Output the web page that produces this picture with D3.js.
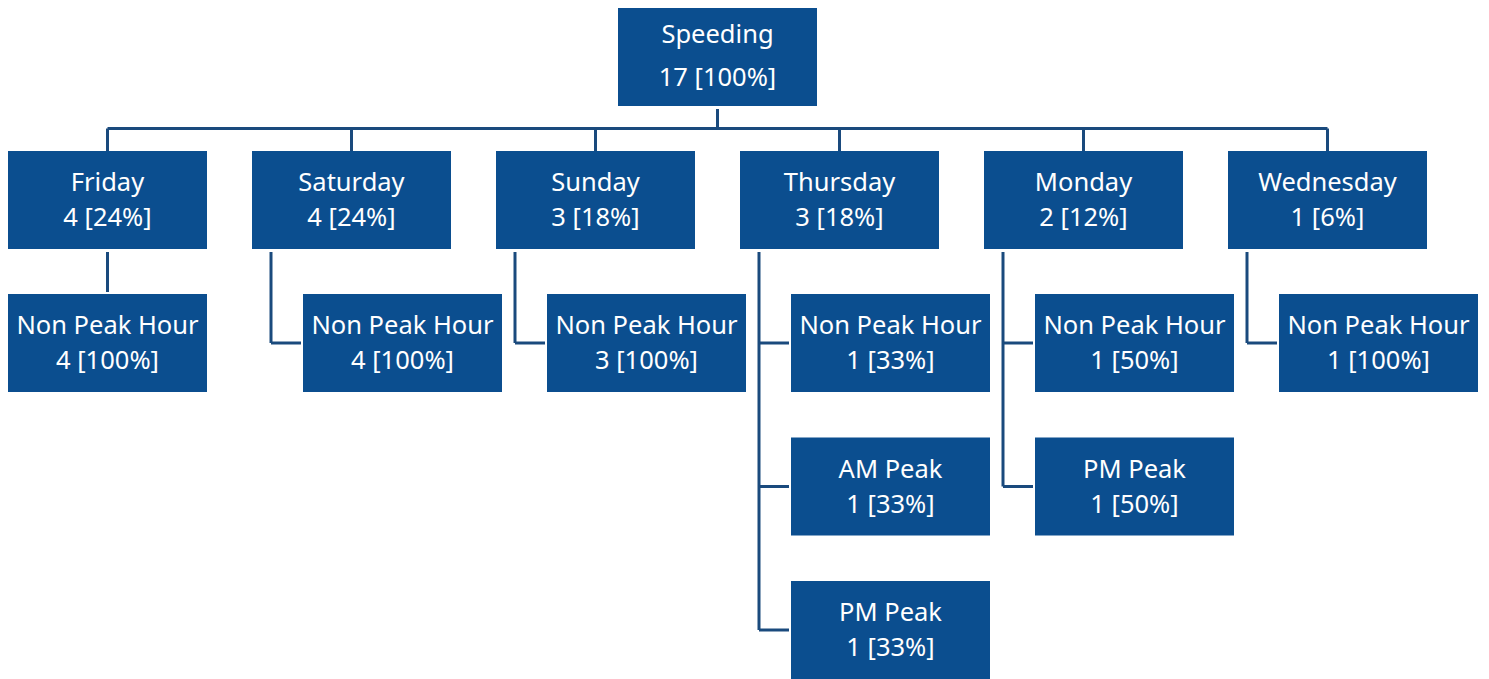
<!DOCTYPE html>
<html>
<head>
<meta charset="utf-8">
<script src="https://cdn.jsdelivr.net/npm/d3@7"></script>
<style>
  body { margin: 0; background: #fff; }
  svg text { font-family: "Noto Sans", sans-serif; fill: #fff; }
</style>
</head>
<body>
<script>
const rootName = "Speeding";
const rootCount = 17;
const days = ["Friday", "Saturday", "Sunday", "Thursday", "Monday", "Wednesday"];
const dayCounts = [4, 4, 3, 3, 2, 1];
const periods = [
    ["Non Peak Hour"],
    ["Non Peak Hour"],
    ["Non Peak Hour"],
    ["Non Peak Hour", "AM Peak", "PM Peak"],
    ["Non Peak Hour", "PM Peak"],
    ["Non Peak Hour"]
];
const periodCounts = [[4], [4], [3], [1, 1, 1], [1, 1], [1]];
const standardLayout = ["Friday"];

const config = {
    width: 1489,
    height: 679,
    boxW: 199,
    boxH: 98,
    fill: "#0b4e8f",
    line: "#1a4a7d"
};

const treeData = {
    name: rootName,
    value: rootCount,
    children: days.map((d, i) => ({
        name: d,
        value: dayCounts[i],
        children: periods[i].map((p, j) => ({ name: p, value: periodCounts[i][j] }))
    }))
};

const root = d3.hierarchy(treeData);

const x = d3.scaleBand()
    .domain(days)
    .range([8, 1427])
    .paddingInner(45 / 244)
    .paddingOuter(0);

const rowY = d3.scaleLinear().domain([0, 1]).range([294, 437.5]);

// positions
root.x0 = 618; root.y0 = 8;
root.children.forEach(day => {
    day.x0 = x(day.data.name);
    day.y0 = 151;
    const standard = standardLayout.includes(day.data.name);
    day.standard = standard;
    day.children.forEach((c, j) => {
        c.x0 = standard ? day.x0 : day.x0 + 51;
        c.y0 = rowY(j);
    });
});

const pct = d => Math.round(d.value / (d.parent ? d.parent.data.value : d.data.value) * 100);
root.each(d => { d.value = d.data.value; });

const svg = d3.select("body").append("svg")
    .attr("width", config.width)
    .attr("height", config.height);

// connectors
const links = svg.append("g")
    .attr("fill", "none")
    .attr("stroke", config.line)
    .attr("stroke-width", 3);

const midX = d => d.x0 + config.boxW / 2;
const busY = 128.5;

links.append("path")
    .attr("d", `M${midX(root)},${root.y0 + config.boxH + 3}V${busY}`);
links.append("path")
    .attr("d", `M${midX(root.children[0])},${busY}H${midX(root.children[root.children.length - 1])}`);
root.children.forEach(day => {
    links.append("path").attr("d", `M${midX(day)},${busY}V${day.y0}`);
    if (day.standard) {
        day.children.forEach(c => {
            links.append("path").attr("d", `M${midX(day)},${day.y0 + config.boxH + 3}V${c.y0 - 2}`);
        });
    } else {
        const lx = day.x0 + 19;
        const last = day.children[day.children.length - 1];
        links.append("path")
            .attr("d", `M${lx},${day.y0 + config.boxH + 3}V${last.y0 + config.boxH / 2}`);
        day.children.forEach(c => {
            links.append("path")
                .attr("d", `M${lx},${c.y0 + config.boxH / 2}H${c.x0 - 2}`);
        });
    }
});

// boxes
const nodes = svg.selectAll("g.node")
    .data(root.descendants())
    .enter()
    .append("g")
    .attr("class", "node")
    .attr("transform", d => `translate(${d.x0},${d.y0})`);

nodes.append("rect")
    .attr("width", config.boxW)
    .attr("height", config.boxH)
    .style("fill", config.fill);

nodes.append("text")
    .attr("x", config.boxW / 2)
    .attr("y", d => d.depth === 0 ? 35 : 40)
    .attr("text-anchor", "middle")
    .style("font-size", "25.5px")
    .text(d => d.data.name);

nodes.append("text")
    .attr("x", config.boxW / 2)
    .attr("y", d => d.depth === 0 ? 78 : 75)
    .attr("text-anchor", "middle")
    .style("font-size", "25.5px")
    .text(d => `${d.value} [${pct(d)}%]`);
</script>
</body>
</html>
